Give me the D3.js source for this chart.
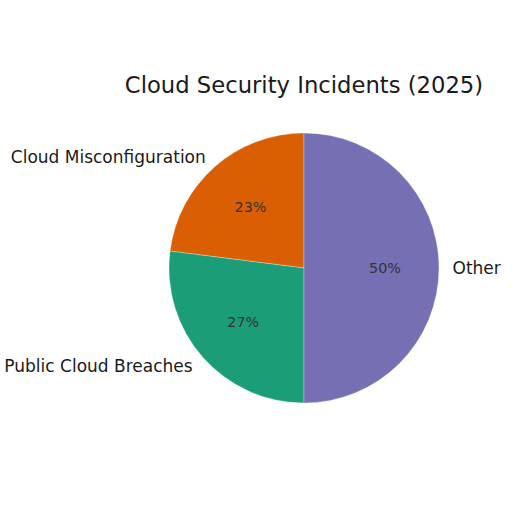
<!DOCTYPE html>
<html>
<head>
<meta charset="utf-8">
<script src="https://cdn.jsdelivr.net/npm/d3@7"></script>
<style>
  body { margin: 0; background: #fff; }
  text { font-family: "DejaVu Sans", sans-serif; }
</style>
</head>
<body>
<div id="chart"></div>
<script>
const width = 512
const height = 512

const categories = ["Cloud Misconfiguration", "Public Cloud Breaches", "Other"]
const values = [23, 27, 50]
const colors = ["#d95f02", "#1b9e77", "#7570b3"]

const cx = 304
const cy = 268
const radius = 135

const svg = d3.select("#chart").append("svg").attr("width", width).attr("height", height)

svg.append("text")
    .attr("x", cx)
    .attr("y", 85)
    .attr("text-anchor", "middle")
    .attr("dominant-baseline", "central")
    .attr("font-size", 22.7)
    .attr("fill", "#1a1a1a")
    .text("Cloud Security Incidents (2025)")

const data = categories.map((c, i) => ({ name: c, value: values[i], color: colors[i] }))

// start at top and go counterclockwise, like matplotlib startangle=90
const pie = d3.pie().value(d => d.value).sort(null).startAngle(0).endAngle(-2 * Math.PI)
const arcs = pie(data)

const arc = d3.arc().innerRadius(0).outerRadius(radius)

const g = svg.append("g").attr("transform", `translate(${cx}, ${cy})`)

g.selectAll("path").data(arcs).enter()
    .append("path")
    .attr("d", arc)
    .attr("fill", d => d.data.color)
    .attr("stroke", "#ffffff")
    .attr("stroke-width", 0.5)
    .attr("stroke-opacity", 0.6)

const mid = d => (d.startAngle + d.endAngle) / 2
const pos = (d, k) => [Math.sin(mid(d)) * radius * k, -Math.cos(mid(d)) * radius * k]

g.selectAll(".label").data(arcs).enter()
    .append("text")
    .attr("class", "label")
    .attr("x", d => pos(d, 1.1)[0])
    .attr("y", d => pos(d, 1.1)[1])
    .attr("text-anchor", d => pos(d, 1.1)[0] < -0.01 ? "end" : "start")
    .attr("dominant-baseline", "central")
    .attr("font-size", 17)
    .attr("fill", "#1a1a1a")
    .text(d => d.data.name)

g.selectAll(".pct").data(arcs).enter()
    .append("text")
    .attr("class", "pct")
    .attr("x", d => pos(d, 0.6)[0])
    .attr("y", d => pos(d, 0.6)[1])
    .attr("text-anchor", "middle")
    .attr("dominant-baseline", "central")
    .attr("font-size", 14.3)
    .attr("fill", "#333333")
    .text(d => d.data.value + "%")
</script>
</body>
</html>
